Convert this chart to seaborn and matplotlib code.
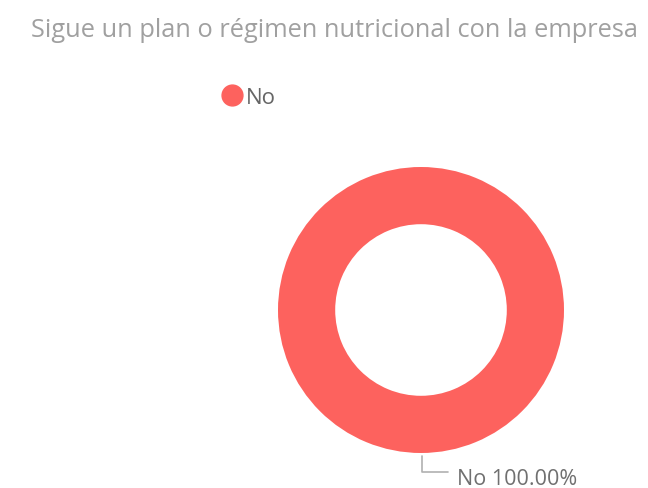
import matplotlib
matplotlib.use("Agg")
import matplotlib.pyplot as plt
from matplotlib.lines import Line2D
import seaborn as sns

categories = ["No"]
values = [100.0]
title = "Sigue un plan o régimen nutricional con la empresa"

sns.set_theme(style="white")
plt.rcParams['font.family'] = ['Open Sans', 'DejaVu Sans']
colors = ["#FD625E"]

W, H = 648, 489
fig = plt.figure(figsize=(W/100, H/100), dpi=100)
cx, cy, r = 421, 311, 143
ax = fig.add_axes([(cx - r)/W, (H - cy - r)/H, 2*r/W, 2*r/H])
wedges, _ = ax.pie(values, colors=colors, radius=1, startangle=90, counterclock=False,
                   wedgeprops=dict(width=0.4, edgecolor="none"))
ax.set_xlim(-1, 1)
ax.set_ylim(-1, 1)
ax.set_aspect("equal")
ax.axis("off")

total = sum(values)
for cat, v in zip(categories, values):
    ax.plot([0.007, 0.007, 0.19], [-1.02, -1.133, -1.133], color="#B0B0B0", lw=1.2, clip_on=False)
    ax.text(0.25, -1.217, f"{cat} {v/total*100:.2f}%", color="#707070", fontsize=15.5,
            va="baseline", ha="left", clip_on=False)

fig.text(31/W, 1 - 37/H, title, color="#A0A0A0", fontsize=18.3, va="baseline", ha="left")

handles = [Line2D([0], [0], marker="o", color="none", markerfacecolor=c, markeredgecolor=c,
                  markersize=15) for c in colors]
fig.legend(handles, categories, loc="center left", bbox_to_anchor=(221/W, 1 - 98/H),
           frameon=False, handletextpad=0.1, handlelength=1.0, borderpad=0, fontsize=16,
           labelcolor="#666666", borderaxespad=0)

fig.savefig("out.png", dpi=100)
